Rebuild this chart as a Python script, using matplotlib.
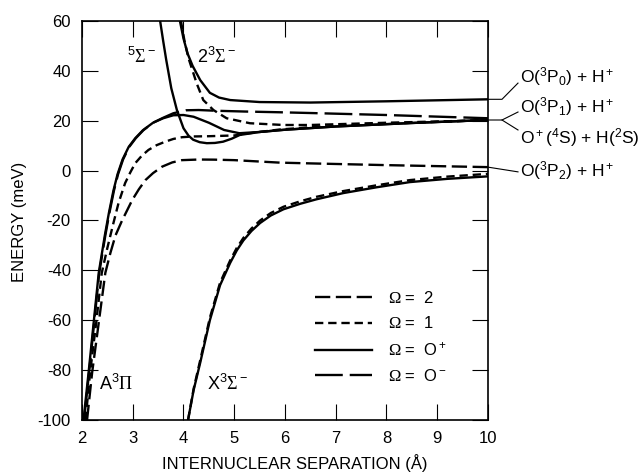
import matplotlib
matplotlib.use('Agg')
import matplotlib.pyplot as plt

plt.rcParams['font.family'] = 'Liberation Sans'
plt.rcParams['mathtext.fontset'] = 'custom'
plt.rcParams['mathtext.rm'] = 'Liberation Sans'
plt.rcParams['mathtext.it'] = 'Liberation Sans:italic'
plt.rcParams['mathtext.tt'] = 'Liberation Serif'
plt.rcParams['axes.unicode_minus'] = False
plt.rcParams['lines.scale_dashes'] = False

# A3Pi state, four Omega components
a_x_0p = [2.03, 2.13, 2.23, 2.33, 2.45, 2.53, 2.62, 2.70, 2.80, 2.92, 3.05, 3.20, 3.40, 3.60, 3.80, 4.00, 4.20, 4.50, 4.80, 5.10, 5.50, 6.00, 7.00, 8.50, 10.0]
a_y_0p = [-100, -81, -61, -41, -26, -17, -8, -1.5, 4.5, 9.5, 13.0, 16.2, 19.2, 21.0, 22.2, 22.3, 21.6, 19.2, 16.3, 15.0, 15.5, 16.4, 17.7, 19.1, 20.3]
a_x_0m = [2.04, 2.14, 2.24, 2.34, 2.46, 2.54, 2.63, 2.71, 2.81, 2.93, 3.06, 3.21, 3.40, 3.60, 3.80, 4.05, 4.30, 4.65, 5.20, 5.90, 6.50, 8.00, 10.0]
a_y_0m = [-100, -81, -61, -41, -26, -17, -8, -1.5, 4.5, 9.5, 13.0, 16.2, 19.2, 21.2, 23.0, 24.2, 24.3, 24.0, 23.7, 23.4, 23.1, 22.3, 21.0]
a_x_1 = [2.07, 2.16, 2.28, 2.39, 2.50, 2.62, 2.72, 2.85, 2.95, 3.05, 3.18, 3.31, 3.47, 3.64, 3.80, 3.97, 4.20, 4.50, 5.00, 5.30, 5.90, 6.50, 7.00, 8.50, 10.0]
a_y_1 = [-100, -81, -61, -41, -31, -21, -13, -5, -0.8, 3, 6, 8.3, 10.2, 11.6, 12.7, 13.4, 13.7, 13.8, 14.1, 15.0, 16.5, 17.4, 17.9, 19.2, 20.3]
a_x_2 = [2.10, 2.20, 2.33, 2.46, 2.56, 2.66, 2.79, 2.99, 3.12, 3.25, 3.40, 3.58, 3.78, 3.97, 4.30, 4.60, 5.00, 5.90, 6.50, 8.00, 10.0]
a_y_2 = [-100, -81, -61, -41, -33, -26, -20, -11.8, -7.5, -3.8, -1.0, 1.6, 3.3, 4.2, 4.45, 4.4, 4.2, 3.2, 2.9, 2.2, 1.4]

# 5Sigma- state
q_x = [3.54, 3.60, 3.66, 3.76, 3.87, 4.00, 4.10, 4.19, 4.32, 4.46, 4.62, 4.78, 4.95, 5.11, 5.50, 6.00, 7.00, 8.50, 10.0]
q_y = [60, 52, 44.4, 33, 24.3, 17.0, 14.0, 12.4, 11.4, 11.0, 11.1, 11.6, 12.8, 14.3, 15.5, 16.4, 17.7, 19.1, 20.3]

# 2 3Sigma- state
s_x_0p = [3.93, 4.00, 4.08, 4.18, 4.33, 4.52, 4.70, 4.92, 5.50, 6.50, 8.00, 10.0]
s_y_0p = [60, 53, 47, 42, 36.3, 31.2, 29.3, 28.3, 27.5, 27.3, 27.8, 28.6]
s_x_1 = [3.95, 4.02, 4.10, 4.18, 4.26, 4.39, 4.59, 4.85, 5.31, 5.97, 6.50, 8.00, 10.0]
s_y_1 = [60, 52, 45, 40, 35, 28.3, 24.3, 21.0, 19.0, 18.3, 18.3, 19.2, 20.2]

# X3Sigma- state
x_x = [4.09, 4.20, 4.33, 4.52, 4.72, 4.92, 5.05, 5.18, 5.34, 5.51, 5.72, 5.97, 6.30, 6.62, 7.15, 7.80, 8.46, 9.20, 10.0]
x_y_0p = [-100, -88, -77, -60, -46, -37, -32, -28, -24.2, -21, -18, -15.5, -13.3, -11.5, -9.0, -6.7, -4.6, -3.3, -2.3]
x_y_1 = [-100, -87.5, -76, -59, -45, -36, -31, -27, -23.2, -20, -17, -14.5, -12.3, -10.5, -8.2, -5.9, -3.8, -2.4, -1.3]

dash = {'2': (11, 4), '1': (6, 3.5), '0m': (20, 5)}
lw = 1.7

fig = plt.figure(figsize=(6.42, 4.72), dpi=100)
ax = fig.add_axes([0.1277, 0.1102, 0.6324, 0.8453])

h2, = ax.plot(a_x_2, a_y_2, 'k', lw=lw, dashes=dash['2'])
h1, = ax.plot(a_x_1, a_y_1, 'k', lw=lw, dashes=dash['1'])
h0p, = ax.plot(a_x_0p, a_y_0p, 'k', lw=lw)
h0m, = ax.plot(a_x_0m, a_y_0m, 'k', lw=lw, dashes=dash['0m'])
ax.plot(q_x, q_y, 'k', lw=lw)
ax.plot(s_x_0p, s_y_0p, 'k', lw=lw)
ax.plot(s_x_1, s_y_1, 'k', lw=lw, dashes=dash['1'])
ax.plot(x_x, x_y_0p, 'k', lw=lw)
ax.plot(x_x, x_y_1, 'k', lw=lw, dashes=dash['1'])

ax.set_xlim(2, 10)
ax.set_ylim(-100, 60)
ax.set_xticks(range(2, 11))
ax.set_yticks(range(-100, 61, 20))
ax.tick_params(direction='in', length=11.5, width=0.8, top=True, right=True,
               labelsize=12, pad=8)
for s in ax.spines.values():
    s.set_linewidth(1.2)

ax.set_xlabel('INTERNUCLEAR SEPARATION (Å)', fontsize=12)
ax.set_ylabel('ENERGY (meV)', fontsize=12)
ax.xaxis.set_label_coords(0.5246, -0.086)
ax.yaxis.set_label_coords(-0.136, 0.496)

# state labels
ax.text(2.89, 43.2, r'$^5\mathtt{\Sigma}^-$', fontsize=13)
ax.text(4.27, 43.2, r'2$^3\mathtt{\Sigma}^-$', fontsize=13)
ax.text(2.335, -88, r'A$^3\mathtt{\Pi}$', fontsize=13)
ax.text(4.46, -88, r'X$^3\mathtt{\Sigma}^-$', fontsize=13)

# asymptote labels at right
tr = ax.get_yaxis_transform()
ax.plot([1.0, 1.0345, 1.0739], [s_y_0p[-1], s_y_0p[-1], 35.1], 'k', lw=0.8,
        transform=tr, clip_on=False)
ax.plot([1.0, 1.0345, 1.0739], [a_y_0p[-1], a_y_0p[-1], 23.5], 'k', lw=0.8,
        transform=tr, clip_on=False)
ax.plot([1.0345, 1.0739], [a_y_0p[-1], 16.3], 'k', lw=0.8,
        transform=tr, clip_on=False)
ax.plot([1.0, 1.0739], [a_y_2[-1], -0.5], 'k', lw=0.8,
        transform=tr, clip_on=False)
ax.text(1.0788, 35.5, r'O($^3$P$_0$) + H$^+$', transform=tr, fontsize=12.5)
ax.text(1.0788, 23.5, r'O($^3$P$_1$) + H$^+$', transform=tr, fontsize=12.5)
ax.text(1.0788, 11.1, r'O$^+$($^4$S) + H($^2$S)', transform=tr, fontsize=12.5)
ax.text(1.0788, -2.5, r'O($^3$P$_2$) + H$^+$', transform=tr, fontsize=12.5)

ax.legend([h2, h1, h0p, h0m],
          [r'$\mathtt{\Omega}$ =  2', r'$\mathtt{\Omega}$ =  1',
           r'$\mathtt{\Omega}$ =  O$^+$', r'$\mathtt{\Omega}$ =  O$^-$'],
          loc='upper left', bbox_to_anchor=(0.574, 0.325), frameon=False,
          fontsize=12, handlelength=3.4, handletextpad=1.0, labelspacing=0.55,
          borderpad=0, borderaxespad=0)

fig.savefig('out.png', dpi=100)
